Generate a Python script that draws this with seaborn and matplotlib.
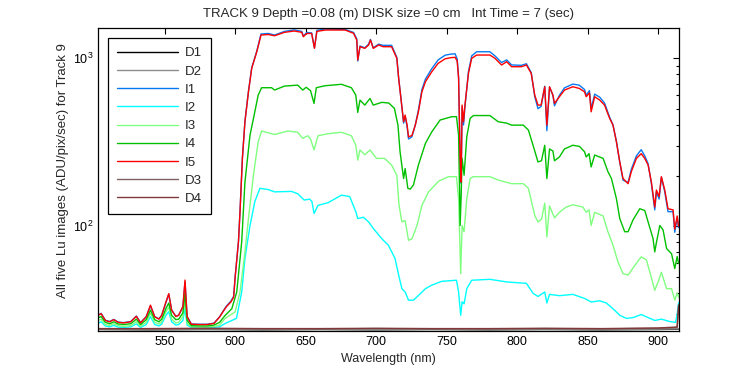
import matplotlib
matplotlib.use("Agg")
import matplotlib.pyplot as plt
from matplotlib.ticker import LogLocator, MultipleLocator, NullFormatter
import pandas as pd
import seaborn as sns

TITLE = "TRACK 9 Depth =0.08 (m) DISK size =0 cm   Int Time = 7 (sec)"
XLABEL = "Wavelength (nm)"
YLABEL = "All five Lu images (ADU/pix/sec) for Track 9"
LABELS = ["D1", "D2", "I1", "I2", "I3", "I4", "I5", "D3", "D4"]
COLORS = ["#000000", "#8c8c8c", "#0a78f0", "#00ffff", "#80ff80",
          "#00c000", "#ff0000", "#806060", "#803838"]

D1_WL = [503, 540, 580, 620, 660, 700, 740, 780, 820, 860, 900, 914.5]
D1_VAL = [24.3, 24.2, 24.3, 24.2, 24.3, 24.2, 24.3, 24.2, 24.3, 24.2, 24.3, 24.4]
D2_WL = [503, 540, 580, 620, 660, 700, 740, 780, 820, 860, 900, 914.5]
D2_VAL = [24.4, 24.3, 24.4, 24.3, 24.4, 24.3, 24.4, 24.3, 24.4, 24.3, 24.4, 24.5]
D3_WL = [503, 540, 580, 620, 660, 700, 740, 780, 820, 860, 900, 912, 913.5, 914.5]
D3_VAL = [24.5, 24.5, 24.6, 24.5, 24.5, 24.6, 24.5, 24.5, 24.6, 24.5, 24.7, 24.9, 25.0, 33.0]
D4_WL = [503, 540, 580, 620, 660, 700, 740, 780, 820, 860, 900, 912, 913.5, 914.5]
D4_VAL = [24.6, 24.6, 24.7, 24.6, 24.6, 24.7, 24.6, 24.6, 24.7, 24.6, 24.8, 25.1, 25.2, 34.0]

I5_WL = [503, 505, 508, 511, 514, 517, 521, 526, 530, 533, 537, 540, 543, 546, 548, 551,
         553, 555, 558, 560, 563, 564.5, 566, 569, 575, 580, 585, 589, 592, 594, 597, 599,
         600, 602.4, 603.5, 605.2, 607, 609.5, 611.8, 615.4, 618.4, 623.6, 628, 635, 642,
         647.3, 648.4, 650.8, 654.3, 656.3, 658, 664, 678, 684, 686.3, 687, 688.6, 692,
         694.7, 696, 698, 701.8, 705, 711, 714.7, 716, 717.6, 719.5, 720.6, 722, 723,
         725.4, 727.8, 730, 732.5, 735, 739.5, 744, 749, 753, 756, 757.5, 758.5, 759.6,
         760.3, 761, 762, 763, 765.5, 767.8, 771.3, 780.7, 784.3, 789, 792.6, 796.1, 803,
         806.6, 810, 812.5, 814.8, 817, 819.6, 821.1, 823, 825.4, 826.5, 830, 833.6, 839.5,
         844, 847.8, 849, 851.3, 852.5, 855, 858.6, 862, 865.6, 868, 870.4, 872.8, 875.1,
         878.7, 881, 884.6, 888, 890.5, 892.9, 895.2, 897.6, 898.8, 900.7, 902.3, 904.7,
         907, 910.6, 911.8, 913.5, 914.5]
I5_VAL = [29.5, 30.2, 27.5, 27.0, 27.8, 26.8, 26.6, 27.0, 29.1, 26.6, 28.9, 33.9, 28.9, 28.0,
          29.5, 35.5, 39.7, 31.7, 29.0, 29.5, 33.3, 47.8, 28.9, 26.1, 26.0, 26.0, 26.4, 28.8,
          31.5, 33.3, 35.4, 37.8, 49, 80.7, 121.6, 253, 418, 630, 868, 1090, 1371, 1380,
          1357, 1422, 1448, 1422, 1339, 1400, 1400, 1142, 1440, 1468, 1468, 1403, 1280, 973,
          1168, 1142, 1195, 1280, 1142, 1195, 1168, 1168, 996, 757, 576, 418, 458, 399, 340,
          346, 399, 479, 630, 723, 829, 930, 990, 1005, 1010, 960, 757, 253, 183, 525, 418,
          525, 811, 996, 1042, 1042, 996, 909, 951, 888, 888, 909, 811, 602, 525, 525, 675,
          399, 675, 602, 537, 589, 645, 675, 660, 630, 589, 620, 479, 589, 562, 525, 438,
          399, 318, 241, 192, 179, 211, 253, 270, 253, 231, 183, 130, 164, 150, 197, 164,
          127, 125, 96, 115, 100]

I1_WL = I5_WL
I1_VAL = [29.6, 30.3, 27.6, 27.1, 27.9, 26.9, 26.7, 27.1, 29.2, 26.7, 29.0, 33.6, 29.0, 28.1,
          29.6, 35.2, 39.3, 31.8, 29.1, 29.6, 33.1, 46.5, 29.0, 26.2, 26.1, 26.1, 26.5, 28.9,
          31.7, 33.6, 35.8, 38.3, 49.5, 81, 122, 255, 421, 635, 875, 1100, 1390, 1400,
          1370, 1440, 1470, 1440, 1350, 1420, 1410, 1150, 1460, 1490, 1480, 1420, 1300, 960,
          1180, 1150, 1210, 1290, 1150, 1210, 1190, 1190, 1010, 760, 580, 410, 450, 390, 330,
          340, 400, 490, 650, 750, 865, 975, 1040, 1055, 1060, 990, 770, 250, 180, 510, 400,
          510, 830, 1030, 1090, 1090, 1030, 940, 975, 910, 905, 925, 820, 590, 500, 515, 680,
          370, 670, 600, 520, 600, 665, 700, 690, 650, 600, 640, 500, 610, 585, 540, 445,
          400, 320, 240, 188, 182, 218, 262, 285, 262, 235, 180, 125, 160, 145, 195, 160,
          122, 122, 92, 112, 98]

I4_WL = [503, 505, 508, 511, 514, 517, 521, 526, 530, 533, 537, 540, 543, 546, 548, 551,
         553, 555, 558, 560, 563, 564.5, 566, 569, 575, 580, 585, 589, 593, 597.7, 601.2,
         604.7, 607, 610.6, 614, 616.4, 618.8, 625.9, 628, 635, 644.4, 648, 650.4, 653.5,
         656, 657.6, 663.5, 675.4, 682.5, 685.6, 687, 688.6, 692, 695.7, 698, 704, 709, 713,
         715.5, 717, 719.5, 720.6, 722.5, 724.2, 726.5, 730, 735, 739.5, 745.4, 753.7, 757,
         758.5, 759.6, 760.3, 761, 762.4, 764.3, 766.7, 769, 780.7, 786.6, 792.6, 796.1,
         804.4, 808, 811.3, 814.8, 817.3, 819.6, 821.1, 823, 825.4, 826.5, 830, 833.6, 839.5,
         844.3, 847.8, 849, 851, 852.5, 855, 861, 864.4, 866.9, 870.4, 872.8, 876.3, 878.7,
         882.2, 887, 890.5, 892.9, 896.4, 897.6, 898.8, 901.2, 903.5, 906, 909.5, 911.8,
         913.5, 914.5]
I4_VAL = [28.5, 29.0, 26.8, 26.3, 27.0, 26.2, 26.0, 26.3, 28.0, 26.0, 27.8, 31.7, 27.8, 27.0,
          28.0, 32.5, 34.9, 29.5, 27.8, 28.0, 30.5, 40.0, 27.5, 25.6, 25.5, 25.5, 25.8, 26.8,
          29.5, 32.3, 40.6, 80.7, 183, 348, 479, 602, 666, 666, 645, 681, 690, 645, 670, 640,
          537, 666, 684, 698, 666, 602, 475, 562, 525, 575, 525, 545, 540, 502, 399, 277,
          192, 220, 168, 166, 176, 231, 311, 364, 428, 448, 448, 348, 101, 150, 253, 201,
          340, 438, 455, 455, 418, 410, 399, 399, 373, 303, 241, 245, 303, 192, 288, 280,
          245, 258, 288, 303, 298, 277, 258, 270, 225, 265, 253, 211, 192, 146, 111, 92.7,
          92.7, 109, 127, 124, 106, 84.3, 70.3, 80, 101, 95, 73.6, 68.6, 56, 66, 60]

I3_WL = [503, 505, 508, 511, 514, 517, 521, 526, 530, 533, 537, 540, 543, 546, 548, 551,
         553, 555, 558, 560, 563, 564.5, 566, 569, 575, 580, 585, 589, 593, 600, 603.5, 607,
         609.5, 613, 616.4, 618.8, 628, 637.5, 644.4, 648, 651.5, 653.5, 656, 658.8, 666,
         675.4, 682.5, 685.6, 687, 688.6, 692, 695.7, 700.3, 706, 711, 714.7, 716.3, 718.3,
         720.6, 723, 725.4, 729, 732.5, 737.2, 744.3, 751.3, 757, 758.5, 760, 761, 762.4,
         764.3, 766.7, 769, 780.7, 786.6, 796.1, 804.4, 808, 812.5, 814.8, 817.3, 819.6,
         821.1, 823, 826.5, 830, 834.8, 839.5, 846.6, 849, 851, 852.5, 855, 861, 864.4, 868,
         871.6, 875.1, 878.7, 883.4, 888, 891.7, 895.2, 897.6, 900, 902.3, 906, 909.5,
         911.8, 913.5, 914.5]
I3_VAL = [27.5, 28.0, 26.0, 25.7, 26.3, 25.6, 25.4, 25.6, 27.0, 25.4, 26.8, 30.4, 26.8, 26.2,
          27.0, 31.0, 33.0, 28.0, 26.6, 26.8, 29.0, 36.3, 26.5, 25.2, 25.1, 25.1, 25.3, 25.8,
          28.3, 30.9, 40.6, 70.3, 111, 201, 318, 368, 351, 368, 362, 333, 345, 330, 284, 345,
          355, 362, 345, 303, 247, 284, 266, 284, 253, 253, 231, 201, 133, 106, 108, 82.4,
          84, 101, 133, 160, 185, 197, 197, 146, 52.2, 101, 92.7, 146, 192, 197, 197, 188,
          179, 179, 168, 116, 106, 110, 137, 86.3, 132, 112, 121, 130, 134, 130, 121, 125,
          101, 121, 115, 92.7, 77, 61, 52.2, 51.2, 58.3, 65.7, 63, 49.4, 41.6, 46.6, 53.2,
          42.5, 42.5, 36.3, 40, 38]

I2_WL = [503, 505, 508, 511, 514, 517, 521, 526, 530, 533, 537, 540, 543, 546, 548, 551,
         553, 555, 558, 560, 563, 564.5, 566, 569, 575, 580, 585, 589, 593, 601, 604.7, 607,
         610.6, 614, 617.6, 623.6, 628, 640, 644.4, 649, 652.9, 654.5, 656, 658.8, 666,
         675.4, 681.3, 685.6, 687, 691, 694.7, 698, 704, 708.7, 713.4, 716, 718.3, 720.6,
         723, 726.5, 730, 735, 739.5, 746.6, 757, 758.5, 760, 761, 762.4, 764.3, 767.8,
         780.7, 792.6, 806.6, 811.3, 814.8, 819.6, 821.1, 823, 830, 839.5, 847.8, 852.5,
         858.6, 863.3, 868, 872.8, 877.5, 882.2, 888, 892.9, 897.6, 902.3, 908.2, 912.4,
         913.5, 914.5]
I2_VAL = [26.5, 27.0, 25.5, 25.2, 25.7, 25.1, 25.0, 25.2, 26.2, 25.0, 26.0, 29.0, 26.0, 25.5,
          26.2, 29.5, 31.0, 27.0, 25.8, 26.0, 27.5, 32.3, 25.8, 25.0, 24.9, 24.9, 25.0, 25.2,
          26.4, 28.3, 40.6, 64.4, 101, 140, 168, 165, 160, 161, 156, 143, 145, 140, 119, 133,
          138, 153, 150, 122, 111, 113, 106, 97, 84.3, 77, 64.4, 51.2, 42.5, 40.6, 36.3,
          36.3, 38.7, 42.5, 44.6, 47, 47.7, 40.6, 29.5, 35.5, 34.5, 42.5, 47.7, 48.3, 46.6,
          45.7, 39.9, 38.2, 40.6, 34.9, 39.3, 38.6, 39.3, 37.2, 35.4, 36.0, 34.9, 32.3, 29.5,
          28.3, 28.6, 29.8, 28.6, 27.5, 28.0, 27.1, 26.8, 30, 35]

SERIES = {
    "D1": (D1_WL, D1_VAL), "D2": (D2_WL, D2_VAL), "I1": (I1_WL, I1_VAL),
    "I2": (I2_WL, I2_VAL), "I3": (I3_WL, I3_VAL), "I4": (I4_WL, I4_VAL),
    "I5": (I5_WL, I5_VAL), "D3": (D3_WL, D3_VAL), "D4": (D4_WL, D4_VAL),
}

rows = []
for name in LABELS:
    wl, val = SERIES[name]
    for w, v in zip(wl, val):
        rows.append({"wl": w, "val": v, "series": name})
df = pd.DataFrame(rows)

sns.set_style("white")
plt.rcParams["font.family"] = ["Liberation Sans", "DejaVu Sans"]
plt.rcParams["axes.edgecolor"] = "black"
plt.rcParams["axes.linewidth"] = 0.9

fig = plt.figure(figsize=(7.5, 3.75), dpi=100)
ax = fig.add_axes([98 / 750, 1 - 331 / 375, 581 / 750, 303 / 375])

palette = dict(zip(LABELS, COLORS))
sns.lineplot(data=df, x="wl", y="val", hue="series", hue_order=LABELS,
             palette=palette, estimator=None, sort=False, linewidth=1.0,
             ax=ax, legend=True)

ax.set_yscale("log")
ax.set_xlim(502.8, 914.8)
ax.set_ylim(23.8, 1509)
ax.xaxis.set_major_locator(MultipleLocator(50))
ax.yaxis.set_major_locator(LogLocator(base=10))
ax.yaxis.set_minor_locator(LogLocator(base=10, subs=range(2, 10)))
ax.yaxis.set_minor_formatter(NullFormatter())
ax.tick_params(which="both", direction="in", top=True, right=True,
               labelsize=9, colors="black")
ax.tick_params(which="major", length=4, width=0.8)
ax.tick_params(which="minor", length=2.5, width=0.8)

ax.set_title(TITLE, fontsize=9.5, pad=8)
ax.set_xlabel(XLABEL, fontsize=9, labelpad=4)
ax.set_ylabel(YLABEL, fontsize=9.5, labelpad=1)
ax.yaxis.set_label_coords(-0.05, 0.53)

old = ax.get_legend()
handles = old.legend_handles
labels = [t.get_text() for t in old.get_texts()]
old.remove()
for h in handles:
    h.set_linewidth(1.0)
leg = ax.legend(handles, labels, loc="upper left",
                bbox_to_anchor=(10 / 581, 1 - 10 / 303), borderaxespad=0,
                fontsize=9.5, frameon=True, fancybox=False, framealpha=1,
                edgecolor="black", handlelength=4.6, handletextpad=0.5,
                labelspacing=0.45, borderpad=0.7)
leg.get_frame().set_linewidth(0.9)

fig.savefig("out.png", dpi=100)
